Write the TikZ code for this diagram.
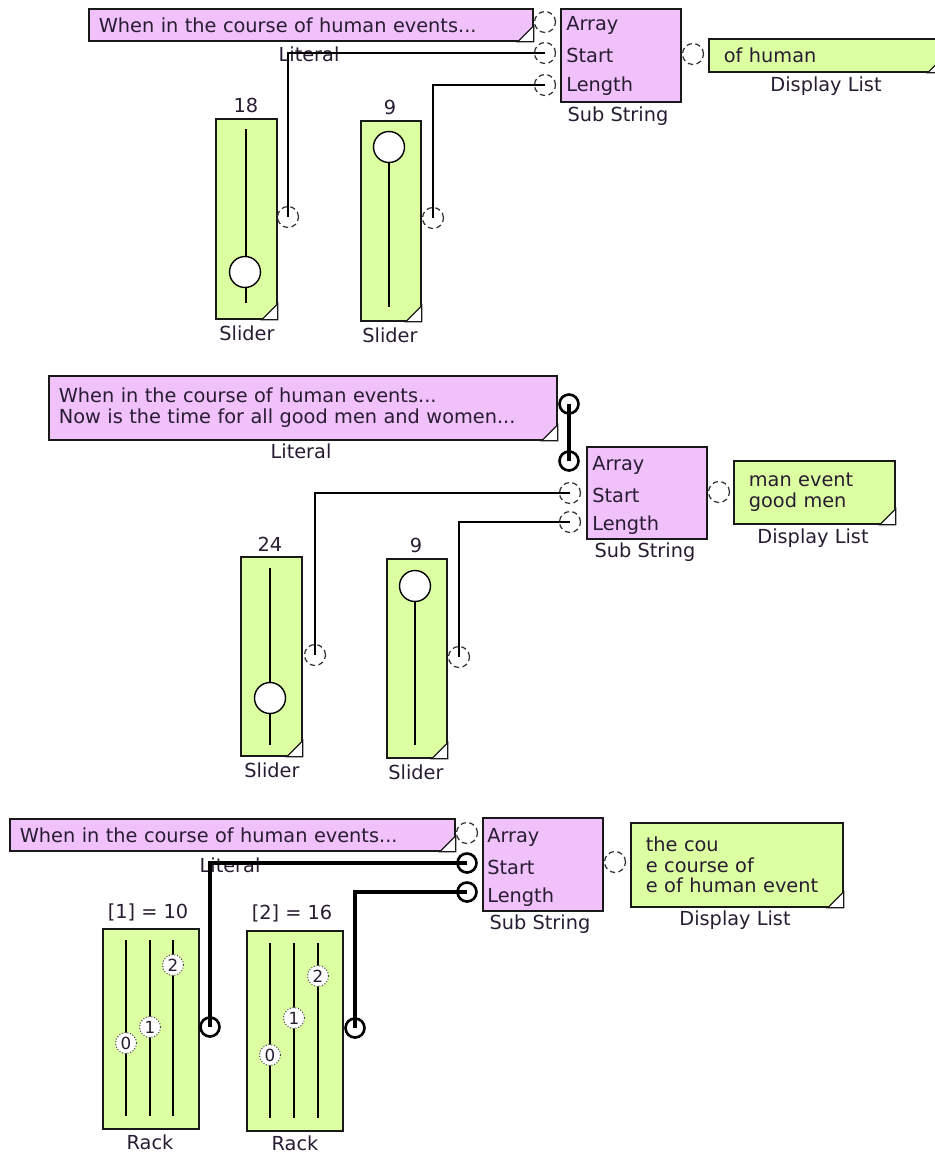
\documentclass[tikz,border=0pt]{standalone}
\usepackage{fontspec}
\setmainfont{DejaVu Sans}
\usetikzlibrary{positioning}
\definecolor{litpink}{RGB}{241,193,251}
\definecolor{valgreen}{RGB}{219,255,161}
\definecolor{inkdark}{RGB}{40,28,50}
\definecolor{portgrey}{RGB}{50,50,50}

\begin{document}
\begin{tikzpicture}[
    x=0.02cm, y=-0.02cm,
    every node/.style={font=\fontsize{11}{11.8}\selectfont, text=inkdark},
    litbox/.style={draw=black!90, line width=1pt, fill=litpink, anchor=north west, align=left, inner xsep=0.2cm, inner ysep=0pt},
    dispbox/.style={draw=black!90, line width=1pt, fill=valgreen, anchor=north west, align=left, inner xsep=0.3cm, inner ysep=0pt},
    subbox/.style={draw=black!90, line width=1pt, fill=litpink, anchor=north west, minimum width=2.4cm, minimum height=1.86cm},
    sliderbox/.style={draw=black!90, line width=1pt, fill=valgreen, anchor=north west, minimum width=1.22cm, minimum height=4cm},
    pinlabel/.style={anchor=west, inner sep=0pt},
    caption/.style={inner sep=0pt},
    port/.style={circle, draw=portgrey, densely dashed, line width=0.7pt, minimum size=0.42cm, inner sep=0pt},
    boldport/.style={circle, draw=black, line width=1.5pt, minimum size=0.38cm, inner sep=0pt},
    knob/.style={circle, draw=black, line width=0.8pt, fill=white, minimum size=0.62cm, inner sep=0pt},
    rackknob/.style={circle, draw=black!70, densely dotted, line width=0.6pt, fill=white, minimum size=0.42cm, inner sep=0pt, font=\fontsize{9.5}{10}\selectfont},
    track/.style={line width=0.8pt, black},
    tab/.style={draw=black!90, fill=white, line width=0.7pt},
    wire/.style={line width=0.7pt, black},
    boldwire/.style={line width=1.8pt, black}
]
\useasboundingbox (0,0) rectangle (935,1153);

% ==================== TOP: SUB STRING WITH SLIDERS ====================
\node[litbox, text width=8.48cm, minimum height=0.64cm] (lit1) at (88,8) {When in the course of human events...};
\node[caption] (lit1cap) at (309,54) {Literal};

\node[subbox] (ss1) at (560,8) {};
\node[pinlabel] (ss1a) at (566,25) {Array};
\node[pinlabel] (ss1s) at (566,55) {Start};
\node[pinlabel] (ss1l) at (566,86) {Length};
\node[caption] (ss1cap) at (618,116) {Sub String};
\node[port] (p1a) at (545,22) {};
\node[port] (p1s) at (545,53) {};
\node[port] (p1l) at (545,85) {};
\node[port] (p1o) at (693,54) {};

\node[dispbox, text width=4.08cm, minimum height=0.66cm] (disp1) at (708,38) {of human};
\node[caption] (disp1cap) at (826,86) {Display List};

% slider 18
\node[sliderbox] (sl1) at (215,118) {};
\node[caption] (sl1val) at (246,105) {18};
\draw[track] (246,129) -- (246,303);
\node[knob] (kn1) at (245,272) {};
\node[port] (sp1) at (288,217) {};
\node[caption] (sl1cap) at (247,333) {Slider};

% slider 9
\node[sliderbox, minimum width=1.2cm] (sl2) at (360,120) {};
\node[caption] (sl2val) at (390,107) {9};
\draw[track] (389,147) -- (389,307);
\node[knob] (kn2) at (389,147) {};
\node[port] (sp2) at (433,218) {};
\node[caption] (sl2cap) at (390,335) {Slider};

\draw[wire] (sp1.center) |- (p1s.center);
\draw[wire] (sp2.center) |- (p1l.center);

% ==================== MIDDLE: TWO-LINE LITERAL ====================
\node[litbox, text width=9.76cm, minimum height=1.28cm] (lit2) at (48,375) {When in the course of human events...\\Now is the time for all good men and women...};
\node[caption] (lit2cap) at (301,451) {Literal};
\node[boldport] (lp2) at (569,404) {};

\node[subbox, minimum height=1.84cm] (ss2) at (586,446) {};
\node[pinlabel] (ss2a) at (592,465) {Array};
\node[pinlabel] (ss2s) at (592,495) {Start};
\node[pinlabel] (ss2l) at (592,525) {Length};
\node[caption] (ss2cap) at (645,552) {Sub String};
\node[boldport] (p2a) at (569,461) {};
\node[port] (p2s) at (570,493) {};
\node[port] (p2l) at (570,522) {};
\node[port] (p2o) at (719,492) {};

\node[dispbox, text width=2.62cm, minimum height=1.26cm] (disp2) at (733,460) {man event\\good men};
\node[caption] (disp2cap) at (813,538) {Display List};

% slider 24
\node[sliderbox, minimum height=3.98cm] (sl3) at (240,556) {};
\node[caption] (sl3val) at (270,544) {24};
\draw[track] (270,568) -- (270,745);
\node[knob] (kn3) at (270,698) {};
\node[port] (sp3) at (315,655) {};
\node[caption] (sl3cap) at (272,770) {Slider};

% slider 9
\node[sliderbox, minimum width=1.2cm, minimum height=3.98cm] (sl4) at (386,558) {};
\node[caption] (sl4val) at (416,545) {9};
\draw[track] (415,586) -- (415,745);
\node[knob] (kn4) at (415,586) {};
\node[port] (sp4) at (459,657) {};
\node[caption] (sl4cap) at (416,772) {Slider};

\draw[boldwire] (lp2.center) -- (p2a.center);
\draw[wire] (sp3.center) |- (p2s.center);
\draw[wire] (sp4.center) |- (p2l.center);

% ==================== BOTTOM: RACKS ====================
\node[litbox, text width=8.5cm, minimum height=0.64cm] (lit3) at (9,818) {When in the course of human events...};
\node[caption] (lit3cap) at (230,865) {Literal};

\node[subbox] (ss3) at (482,817) {};
\node[pinlabel] (ss3a) at (487,837) {Array};
\node[pinlabel] (ss3s) at (487,867) {Start};
\node[pinlabel] (ss3l) at (487,897) {Length};
\node[caption] (ss3cap) at (540,924) {Sub String};
\node[port] (p3a) at (467,833) {};
\node[boldport] (p3s) at (467,863) {};
\node[boldport] (p3l) at (467,892) {};
\node[port] (p3o) at (615,862) {};

\node[dispbox, text width=3.64cm, minimum height=1.68cm] (disp3) at (630,822) {the cou\\e course of\\e of human event};
\node[caption] (disp3cap) at (735,920) {Display List};

% rack [1]
\node[sliderbox, minimum width=1.92cm] (rk1) at (102,928) {};
\node[caption] (rk1val) at (148,912) {[1] = 10};
\foreach \x in {126,150,173} \draw[track] (\x,940) -- (\x,1116);
\node[rackknob] (rk1k0) at (126,1043) {0};
\node[rackknob] (rk1k1) at (150,1027) {1};
\node[rackknob] (rk1k2) at (173,965) {2};
\node[boldport] (rp1) at (210,1027) {};
\node[caption] (rk1cap) at (150,1142) {Rack};

% rack [2]
\node[sliderbox, minimum width=1.92cm] (rk2) at (246,930) {};
\node[caption] (rk2val) at (292,913) {[2] = 16};
\foreach \x in {270,294,318} \draw[track] (\x,943) -- (\x,1118);
\node[rackknob] (rk2k0) at (270,1055) {0};
\node[rackknob] (rk2k1) at (294,1018) {1};
\node[rackknob] (rk2k2) at (318,976) {2};
\node[boldport] (rp2) at (355,1028) {};
\node[caption] (rk2cap) at (295,1143) {Rack};

\draw[boldwire] (rp1.center) |- (p3s.center);
\draw[boldwire] (rp2.center) |- (p3l.center);

% corner tabs
\foreach \b in {lit1,disp1,sl1,sl2,lit2,disp2,sl3,sl4,lit3,disp3}
    \draw[tab] (\b.south east) -- ++(-16,0) -- ++(16,-16) -- cycle;

\end{tikzpicture}
\end{document}
